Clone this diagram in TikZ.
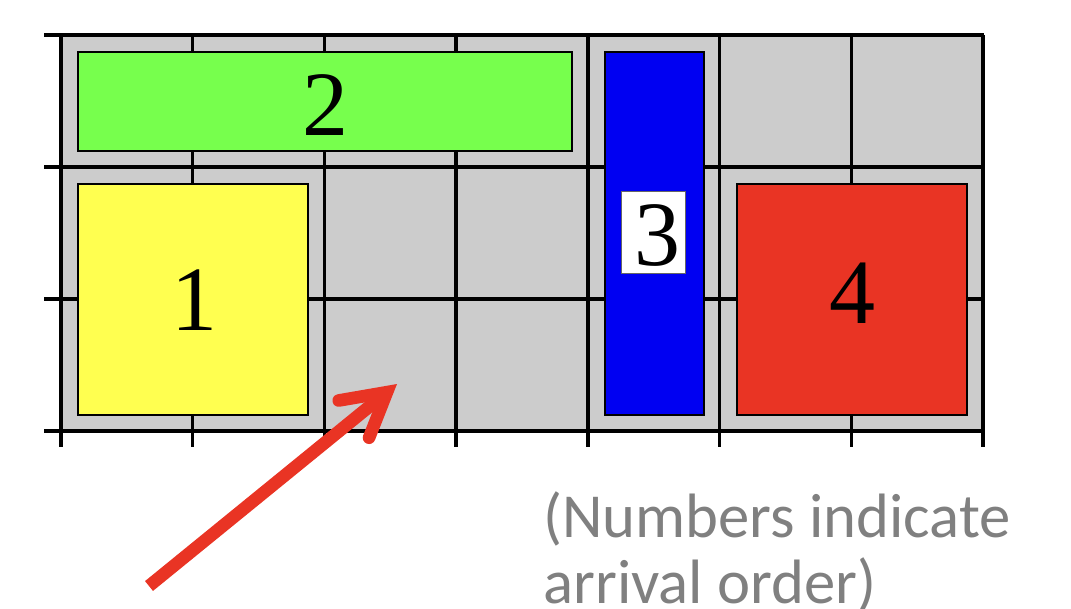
\documentclass[tikz,border=0pt]{standalone}
\usepackage{fontspec}
\setmainfont{Liberation Serif}
\newfontfamily\notefont{Carlito}
\usetikzlibrary{arrows.meta}
\definecolor{cellgray}{RGB}{204,204,204}
\definecolor{boxgreen}{RGB}{119,255,77}
\definecolor{boxyellow}{RGB}{255,255,80}
\definecolor{boxblue}{RGB}{0,0,242}
\definecolor{boxred}{RGB}{233,52,36}
\definecolor{notegray}{RGB}{128,128,128}
\definecolor{arrowred}{RGB}{233,52,36}
\begin{document}
\begin{tikzpicture}[x=0.75pt,y=-0.75pt,
  gridline/.style={line width=2.6pt,black},
  jobbox/.style={draw=black,line width=0.9pt,inner sep=0pt,outer sep=0pt},
  digit/.style={font=\fontsize{69}{69}\selectfont,inner sep=0pt,anchor=base},
  labelbox/.style={draw=black!60,line width=0.6pt,fill=white,inner sep=0pt,minimum width=48pt,minimum height=61.5pt},
  arrivalarrow/.style={draw=arrowred,line width=9.5pt,
    -{Straight Barb[length=32pt,width=36pt,line cap=round,line join=miter]}},
  note/.style={font=\notefont\fontsize{47}{50}\selectfont,text=notegray,align=left,inner sep=0pt}
]
\useasboundingbox (0,0) rectangle (1071,608);
% cells
\fill[cellgray] (61,35) rectangle (983,431);
% grid
\foreach \k in {0,...,7}
  \draw[gridline] ({61+131.714*\k},35) -- ({61+131.714*\k},447);
\foreach \y in {35,167,299,431}
  \draw[gridline] (44,\y) -- (984.3,\y);
% jobs
\node[jobbox,fill=boxgreen,minimum width=370.5pt,minimum height=74.25pt] (job2) at (325,101.5) {};
\node[jobbox,fill=boxyellow,minimum width=172.5pt,minimum height=173.25pt] (job1) at (193,299.5) {};
\node[jobbox,fill=boxblue,minimum width=74.25pt,minimum height=272.25pt] (job3) at (654.5,233.5) {};
\node[jobbox,fill=boxred,minimum width=172.5pt,minimum height=173.25pt] (job4) at (852,299.5) {};
\node[labelbox] (lab3) at (653,232) {};
% digits
\node[digit] (d1) at (194.5,330) {1};
\node[digit] (d2) at (325,135) {2};
\node[digit] (d3) at (657.5,265) {3};
\node[digit] (d4) at (852,323) {4};
% arrow
\coordinate (tail) at (149,586);
\coordinate (tip) at (397,384);
\draw[arrivalarrow] (tail) -- (tip);
% note
\node[note,anchor=north west] (note) at (543,491) {(Numbers indicate\\arrival order)};
\end{tikzpicture}
\end{document}
